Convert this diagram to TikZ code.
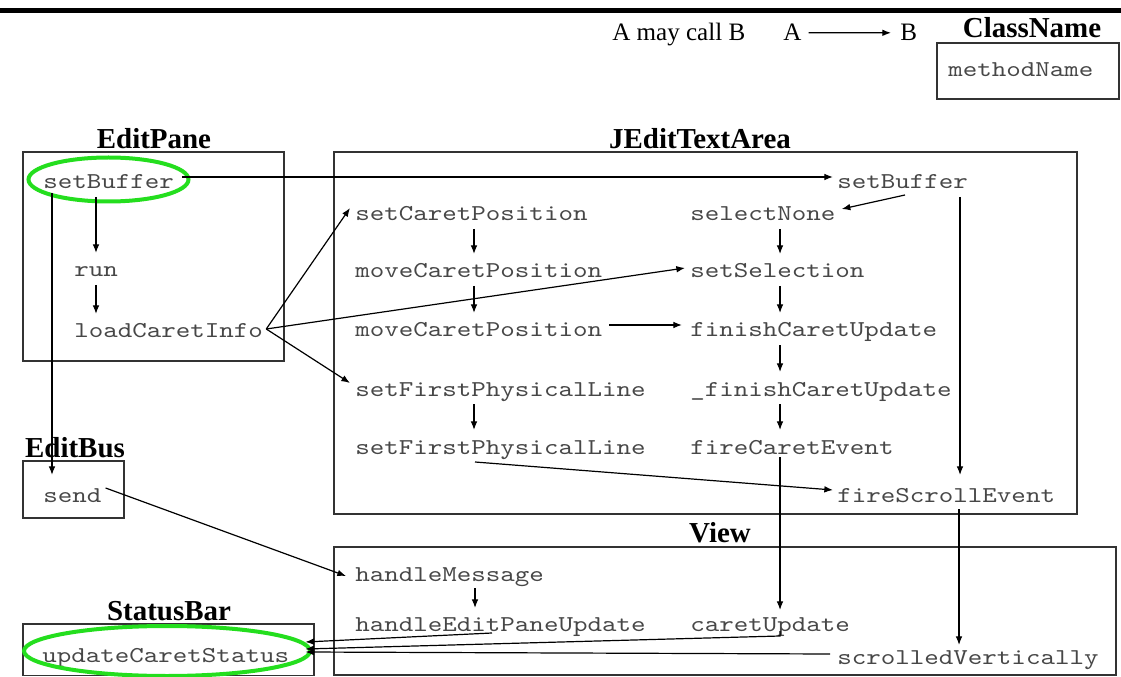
\documentclass[tikz,border=0pt]{standalone}
\usepackage{fontspec}
\setmainfont{Liberation Serif}
\newfontfamily\codefont{lmmono10-regular.otf}[FakeStretch=1.22]
\usetikzlibrary{arrows.meta,calc}
\definecolor{hlgreen}{RGB}{36,222,30}

\tikzset{
  code/.style={font=\codefont\fontsize{17}{20}\selectfont, text=black!72,
               inner sep=0pt, anchor=base west},
  title/.style={font=\fontsize{21.7}{24}\selectfont\bfseries, inner sep=0pt, anchor=base},
  legend/.style={font=\fontsize{18.8}{21}\selectfont, inner sep=0pt, anchor=base west},
  box/.style={draw=black!80, line width=1.05pt},
  call/.style={draw=black, line width=0.9pt, -{Latex[length=6.5pt,width=5pt]}},
  hilite/.style={draw=hlgreen, line width=3pt},
}
% vertical call between two stacked methods at a given x
\newcommand\downcall[3]{\draw[call] ($(#1,0 |- #2.base)+(0,8)$) -- ($(#1,0 |- #3.base)+(0,-24)$);}

\begin{document}
\begin{tikzpicture}[x=0.75pt,y=-0.75pt]
\useasboundingbox (0,0) rectangle (1121,677);

% header rule
\draw[line width=3.2pt] (0,10.5) -- (1121,10.5);

% legend
\node[legend] (lgtext) at (612,41) {A may call B};
\node[legend] (lgA) at (783,41) {A};
\node[legend] (lgB) at (900,41) {B};
\draw[call] ($(lgA.east)+(7,0)$) -- ($(lgB.west)+(-9,0)$);
\node[title] (lgclass) at (1032,38) {ClassName};
\draw[box] (937,43) rectangle (1119,99);
\node[code] (lgmethod) at (948,77) {methodName};

% class boxes
\draw[box] (23,152) rectangle (284,361);
\node[title] (tEditPane) at (154,149) {EditPane};
\draw[box] (334,152) rectangle (1077,514);
\node[title] (tJEdit) at (700,149) {JEditTextArea};
\draw[box] (23,461) rectangle (124,518);
\node[title] (tEditBus) at (75,457) {EditBus};
\draw[box] (334,547) rectangle (1116,675);
\node[title] (tView) at (720,542) {View};
\draw[box] (23,624) rectangle (314,675.5);
\node[title] (tStatus) at (169,620) {StatusBar};

% EditPane methods
\node[code] (sbE) at (43,189) {setBuffer};
\node[code] (run) at (74,277) {run};
\node[code] (lci) at (74,338) {loadCaretInfo};

% JEditTextArea methods
\node[code] (sbJ)   at (837,189) {setBuffer};
\node[code] (scp)   at (355,221) {setCaretPosition};
\node[code] (mcpA)  at (355,278) {moveCaretPosition};
\node[code] (mcpB)  at (355,337) {moveCaretPosition};
\node[code] (sfplA) at (355,396) {setFirstPhysicalLine};
\node[code] (sfplB) at (355,454) {setFirstPhysicalLine};
\node[code] (sn)    at (690,221) {selectNone};
\node[code] (ssel)  at (690,278) {setSelection};
\node[code] (fcu)   at (690,337) {finishCaretUpdate};
\node[code] (ufcu)  at (690,396) {\_finishCaretUpdate};
\node[code] (fce)   at (690,454) {fireCaretEvent};
\node[code] (fse)   at (837,502) {fireScrollEvent};

% EditBus, View, StatusBar methods
\node[code] (send) at (43,502) {send};
\node[code] (hm)   at (355,581) {handleMessage};
\node[code] (hepu) at (355,631) {handleEditPaneUpdate};
\node[code] (cu)   at (690,631) {caretUpdate};
\node[code] (sv)   at (837,664) {scrolledVertically};
\node[code] (ucs)  at (42,662) {updateCaretStatus};

% highlighted methods
\draw[hilite] (108.5,179.5) ellipse [x radius=80, y radius=22];
\draw[hilite] (167,651) ellipse [x radius=143, y radius=25];

% calls inside EditPane
\downcall{96}{sbE}{run}
\downcall{96}{run}{lci}
\draw[call] ($(sbE.base west)+(9,4)$) -- ($(sbE.base west |- send.base)+(9,-27)$);
\draw[call] ($(sbE.base east)+(8,-12)$) -- ($(sbJ.base west)+(-4,-12)$);
\draw[call] ($(lci.base east)+(3,-9)$) -- ($(scp.base west)+(-5,-13)$);
\draw[call] ($(lci.base east)+(3,-9)$) -- ($(ssel.base west)+(-5,-10)$);
\draw[call] ($(lci.base east)+(3,-9)$) -- ($(sfplA.base west)+(-5,-13)$);

% calls inside JEditTextArea
\downcall{474}{scp}{mcpA}
\downcall{474}{mcpA}{mcpB}
\downcall{474}{sfplA}{sfplB}
\draw[call] ($(mcpB.base east)+(7,-12)$) -- ($(fcu.base west)+(-8,-12)$);
\draw[call] ($(sfplB.base west)+(120,8)$) -- ($(fse.base west)+(-4,-12)$);
\draw[call] ($(sbJ.base west)+(68,6)$) -- ($(sn.base east)+(6,-12)$);
\draw[call] ($(sbJ.base west)+(123,8)$) -- ($(fse.base west)+(123,-27)$);
\downcall{780}{sn}{ssel}
\downcall{780}{ssel}{fcu}
\downcall{780}{fcu}{ufcu}
\downcall{780}{ufcu}{fce}

% calls into View and StatusBar
\draw[call] ($(fce.base west)+(90,3)$) -- ($(cu.base west)+(90,-21)$);
\draw[call] ($(fse.base west)+(122,7)$) -- ($(sv.base west)+(122,-19)$);
\draw[call] ($(send.base east)+(4,-14)$) -- ($(hm.base west)+(-9,-5)$);
\draw[call] ($(475,0 |- hm.base)+(0,7)$) -- ($(475,0 |- hepu.base)+(0,-23)$);
\draw[call] ($(hepu.base west)+(137,2)$) -- ($(ucs.base east)+(16,-20)$);
\draw[call] ($(cu.base west)+(90,0)$) -- ($(cu.base west)+(90,5)$) -- ($(ucs.base east)+(16,-13)$);
\draw[call] ($(sv.base west)+(-7,-10)$) -- ($(ucs.base east)+(16,-10)$);
\end{tikzpicture}
\end{document}
